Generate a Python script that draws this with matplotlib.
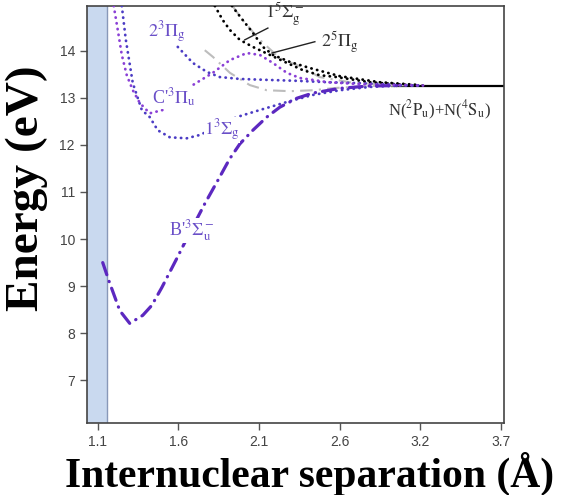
import matplotlib
matplotlib.use("Agg")
import matplotlib.pyplot as plt

plt.rcParams['mathtext.fontset'] = 'stix'

# x tick positions (uniform) and the labels printed on them
xticks = [1.1, 1.62, 2.14, 2.66, 3.18, 3.7]
xticklabels = ['1.1', '1.6', '2.1', '2.6', '3.2', '3.7']
yticks = [7, 8, 9, 10, 11, 12, 13, 14]

asym = 13.26  # N(2Pu)+N(4Su) limit
asym_x = [3.0, 3.72]

# B'3Su- (dash-dot, purple)
b_x = [1.132, 1.171, 1.242, 1.306, 1.39, 1.448, 1.513, 1.61, 1.70, 1.79, 1.875,
       1.95, 2.016, 2.10, 2.19, 2.274, 2.384, 2.487, 2.661, 2.85, 3.05]
b_e = [9.50, 9.12, 8.48, 8.21, 8.38, 8.59, 8.97, 9.59, 10.18, 10.75, 11.25,
       11.70, 12.02, 12.31, 12.59, 12.80, 12.99, 13.10, 13.20, 13.25, 13.26]

# 1 3Sg (dotted, blue)
s3_x = [1.255, 1.281, 1.326, 1.384, 1.435, 1.487, 1.565, 1.674, 1.758, 1.855,
        1.997, 2.145, 2.319, 2.487, 2.661, 2.855, 3.05, 3.2]
s3_e = [14.95, 14.23, 13.31, 12.74, 12.59, 12.31, 12.16, 12.14, 12.21, 12.36,
        12.59, 12.74, 12.91, 13.06, 13.16, 13.23, 13.26, 13.26]

# C'3Pu (dotted, purple)
c_x = [1.203, 1.229, 1.255, 1.287, 1.326, 1.371, 1.435, 1.519, 1.62, 1.713, 1.842,
       1.952, 2.061, 2.145, 2.229, 2.319, 2.403, 2.487, 2.584, 2.79, 3.05, 3.2]
c_e = [14.95, 14.44, 13.91, 13.48, 13.16, 12.89, 12.67, 12.74, 12.98, 13.27, 13.53,
       13.80, 13.95, 13.91, 13.74, 13.53, 13.42, 13.38, 13.33, 13.29, 13.27, 13.26]

# 2 3Pg (dotted, blue)
p3_x = [1.616, 1.713, 1.803, 1.887, 2.016, 2.19, 2.384, 2.584, 2.79, 3.05, 3.2]
p3_e = [14.08, 13.74, 13.55, 13.44, 13.40, 13.38, 13.36, 13.33, 13.31, 13.27, 13.26]

# 1 5Sg- (dotted, black)
s5_x = [1.855, 1.906, 1.952, 2.016, 2.10, 2.21, 2.32, 2.42, 2.53, 2.64, 2.855, 3.11, 3.2]
s5_e = [14.95, 14.65, 14.44, 14.23, 14.08, 13.91, 13.74, 13.59, 13.48, 13.44, 13.33, 13.27, 13.26]

# 2 5Pg (dotted, black)
p5_x = [1.965, 2.035, 2.10, 2.165, 2.23, 2.34, 2.47, 2.66, 2.92, 3.18]
p5_e = [14.95, 14.65, 14.38, 14.08, 13.91, 13.76, 13.63, 13.46, 13.33, 13.27]

# grey dash-dot curves
g1_x = [1.965, 2.035, 2.145, 2.274, 2.416, 2.53, 2.726, 2.98, 3.15]
g1_e = [14.97, 14.65, 14.23, 13.84, 13.65, 13.44, 13.33, 13.27, 13.26]
g2_x = [1.79, 1.842, 1.952, 2.08, 2.19, 2.34, 2.487, 2.64, 2.855, 3.05]
g2_e = [14.01, 13.87, 13.53, 13.27, 13.16, 13.14, 13.16, 13.21, 13.25, 13.26]

fig = plt.figure(figsize=(5.67, 4.95), dpi=100)
ax = fig.add_axes([0.153, 0.146, 0.736, 0.842])

xmin, xmax = 1.029, 3.72
ax.axvspan(xmin, 1.158, color='#c9d9ef', zorder=0, lw=0)
ax.axvline(1.158, color='#8898b8', lw=1, zorder=1)

dots = (0, (0.1, 2))
ax.plot(asym_x, [asym, asym], color='black', lw=1.6, zorder=2)
ax.plot(g1_x, g1_e, color='#bdbdbd', lw=1.5, ls=(0, (6, 3, 1, 3)), zorder=2)
ax.plot(g2_x, g2_e, color='#bdbdbd', lw=1.5, ls=(0, (6, 3, 1, 3)), zorder=2)
ax.plot(s5_x, s5_e, color='black', lw=2, ls=dots, dash_capstyle='round', zorder=3)
ax.plot(p5_x, p5_e, color='black', lw=2, ls=dots, dash_capstyle='round', zorder=3)
ax.plot(p3_x, p3_e, color='#4b3cc4', lw=2, ls=dots, dash_capstyle='round', zorder=3)
ax.plot(s3_x, s3_e, color='#4b3cc4', lw=2, ls=dots, dash_capstyle='round', zorder=3)
ax.plot(c_x, c_e, color='#8a3fd6', lw=2, ls=dots, dash_capstyle='round', zorder=3)
ax.plot(b_x, b_e, color='#5c28c0', lw=2.3, ls=(0, (4, 2.2, 0.1, 2.2)),
        dash_capstyle='round', zorder=4)

lab = dict(color='#6a4fc8', fontsize=13, family='Liberation Serif',
           ha='center', va='center', zorder=5,
           bbox=dict(facecolor='white', edgecolor='none', pad=0.3))
ax.text(1.545, 14.40, r'$\mathrm{2^3\Pi_g}$', **lab)
ax.text(1.59, 13.01, r"C'$\mathrm{^3\Pi_u}$", **lab)
ax.text(1.90, 12.31, r'$\mathrm{1^3\Sigma_g}$', **lab)
ax.text(1.706, 10.18, r"B'$\mathrm{^3\Sigma_u^-}$", **lab)

ax.text(2.306, 14.78, r'$\mathrm{1^5\Sigma_g^-}$', color='#333333', fontsize=13,
        ha='center', va='center', zorder=5)
ax.text(2.661, 14.18, r'$\mathrm{2^5\Pi_g}$', color='#333333', fontsize=13,
        ha='center', va='center', zorder=5)
ax.plot([2.048, 2.197], [14.23, 14.48], color='#222222', lw=1, zorder=5)
ax.plot([2.223, 2.50], [13.95, 14.19], color='#222222', lw=1, zorder=5)
ax.text(3.306, 12.74, r'N($\mathrm{^2P_u}$)+N($\mathrm{^4S_u}$)', color='#333333',
        fontsize=12, family='Liberation Serif', ha='center', va='center', zorder=5)

ax.set_xlim(xmin, xmax)
ax.set_ylim(6.1, 14.95)
ax.set_xticks(xticks)
ax.set_xticklabels(xticklabels)
ax.set_yticks(yticks)
ax.tick_params(direction='out', length=5, width=1, color='#555555',
               labelcolor='#444444', labelsize=10)
for lbl in ax.get_xticklabels() + ax.get_yticklabels():
    lbl.set_family('Liberation Sans')
for sp in ax.spines.values():
    sp.set_color('#444444')
    sp.set_linewidth(1.2)

fig.text(310 / 567, 1 - 474 / 495, 'Internuclear separation (Å)', fontsize=30,
         fontweight='bold', family='Liberation Serif', ha='center', va='center')
fig.text(27 / 567, 1 - 188 / 495, 'Energy (eV)', fontsize=34, rotation=90,
         fontweight='bold', family='Liberation Serif', ha='center', va='center')

fig.savefig('out.png', dpi=100)
